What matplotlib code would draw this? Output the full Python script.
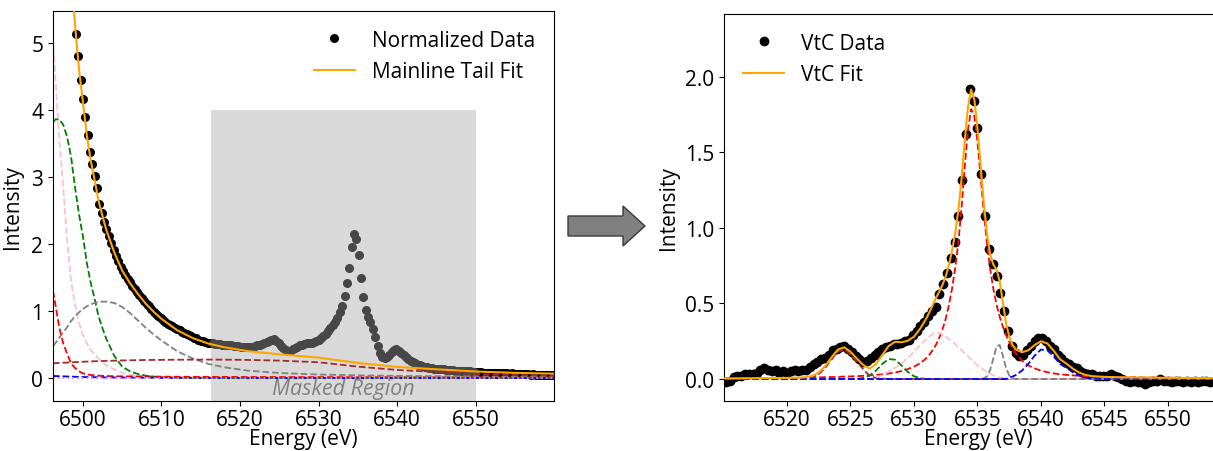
import numpy as np
import matplotlib.pyplot as plt
from matplotlib.patches import FancyArrow

plt.rcParams['font.family'] = ['Open Sans', 'DejaVu Sans']
plt.rcParams['font.size'] = 15

# ---------------- left panel: normalized data + mainline tail fit ----------------
norm_start, norm_step = 6499.1, 0.3
norm_y = np.array([
    5.14, 4.80, 4.45, 4.16, 3.90, 3.62, 3.38, 3.20, 3.02, 2.84,
    2.60, 2.46, 2.33, 2.22, 2.12, 2.01, 1.91, 1.82, 1.74, 1.66,
    1.59, 1.54, 1.48, 1.43, 1.38, 1.33, 1.29, 1.24, 1.19, 1.15,
    1.10, 1.07, 1.03, 0.99, 0.96, 0.93, 0.89, 0.87, 0.84, 0.81,
    0.79, 0.77, 0.75, 0.73, 0.71, 0.69, 0.67, 0.66, 0.64, 0.62,
    0.60, 0.59, 0.57, 0.56, 0.55, 0.54, 0.53, 0.52, 0.52, 0.51,
    0.51, 0.51, 0.50, 0.50, 0.50, 0.49, 0.49, 0.48, 0.48, 0.48,
    0.47, 0.47, 0.46, 0.46, 0.47, 0.47, 0.48, 0.49, 0.50, 0.51,
    0.52, 0.54, 0.55, 0.57, 0.58, 0.56, 0.52, 0.48, 0.45, 0.42,
    0.40, 0.41, 0.43, 0.45, 0.47, 0.49, 0.50, 0.51, 0.52, 0.53,
    0.53, 0.54, 0.56, 0.57, 0.59, 0.63, 0.66, 0.70, 0.74, 0.79,
    0.84, 0.90, 0.98, 1.07, 1.23, 1.42, 1.64, 1.95, 2.15, 2.07,
    1.84, 1.50, 1.21, 1.01, 0.91, 0.84, 0.73, 0.61, 0.48, 0.37,
    0.31, 0.30, 0.32, 0.35, 0.39, 0.42, 0.43, 0.41, 0.38, 0.34,
    0.31, 0.28, 0.26, 0.24, 0.22, 0.20, 0.19, 0.18, 0.17, 0.16,
    0.15, 0.15, 0.14, 0.14, 0.13, 0.13, 0.13, 0.12, 0.12, 0.12,
    0.12, 0.11, 0.11, 0.11, 0.10, 0.10, 0.10, 0.10, 0.09, 0.09,
    0.09, 0.09, 0.09, 0.08, 0.08, 0.08, 0.08, 0.08, 0.07, 0.07,
    0.07, 0.07, 0.07, 0.07, 0.06, 0.07, 0.06, 0.06, 0.06, 0.06,
    0.06, 0.06, 0.06, 0.05, 0.06, 0.05, 0.05, 0.05, 0.05, 0.05,
    0.05, 0.05, 0.04])
norm_x = norm_start + norm_step * np.arange(len(norm_y))

mask_lo, mask_hi, mask_top = 6516.3, 6550.0, 4.0

# tail fit components
tail_x = [6496.2, 6496.5, 6497.0, 6497.5, 6498.0, 6498.5, 6499.0, 6499.5, 6500.0,
          6500.5, 6501.0, 6501.5, 6502.0, 6502.5, 6503.0, 6504.0, 6505.0, 6506.0,
          6507.0, 6508.0, 6509.0, 6510.0, 6512.0, 6514.0, 6516.0, 6518.0, 6521.0,
          6525.0, 6530.0, 6535.0, 6540.0, 6545.0, 6550.0, 6555.0, 6560.0]
t_pink = [5.1, 4.5, 3.55, 2.85, 2.05, 1.45, 1.1, 0.83, 0.65, 0.52, 0.42, 0.35, 0.29,
          0.24, 0.19, 0.13, 0.08, 0.05, 0.04, 0.03, 0.025, 0.02, 0.015, 0.01, 0.01,
          0.008, 0.006, 0.005, 0.004, 0.003, 0.002, 0.002, 0.002, 0.001, 0.001]
t_green = [3.82, 3.86, 3.86, 3.78, 3.6, 3.3, 2.85, 2.45, 2.12, 1.72, 1.42, 1.18, 0.92,
           0.74, 0.58, 0.33, 0.17, 0.10, 0.06, 0.035, 0.02, 0.01, 0.004, 0.001, 0, 0,
           0, 0, 0, 0, 0, 0, 0, 0, 0]
t_red = [1.3, 1.1, 0.75, 0.52, 0.36, 0.22, 0.15, 0.10, 0.07, 0.055, 0.045, 0.04, 0.035,
         0.032, 0.03, 0.027, 0.025, 0.024, 0.023, 0.022, 0.021, 0.02, 0.019, 0.018,
         0.017, 0.016, 0.015, 0.014, 0.013, 0.012, 0.012, 0.011, 0.011, 0.010, 0.010]
t_gray = [0.48, 0.52, 0.60, 0.68, 0.76, 0.85, 0.92, 0.98, 1.03, 1.07, 1.10, 1.12, 1.135,
          1.14, 1.14, 1.12, 1.06, 0.97, 0.86, 0.75, 0.65, 0.56, 0.40, 0.29, 0.21, 0.16,
          0.11, 0.075, 0.052, 0.04, 0.032, 0.027, 0.024, 0.021, 0.019]
t_brown = [0.22, 0.222, 0.225, 0.228, 0.231, 0.234, 0.237, 0.24, 0.243, 0.245, 0.248,
           0.25, 0.252, 0.254, 0.256, 0.259, 0.262, 0.265, 0.267, 0.269, 0.27, 0.271,
           0.273, 0.274, 0.275, 0.274, 0.27, 0.26, 0.235, 0.17, 0.12, 0.09, 0.06,
           0.045, 0.035]
t_blue = [0.03, 0.029, 0.027, 0.025, 0.023, 0.021, 0.019, 0.017, 0.015, 0.014, 0.013,
          0.012, 0.011, 0.010, 0.009, 0.008, 0.007, 0.006, 0.005, 0.004, 0.004, 0.003,
          0.002, 0.002, 0.001, 0.001, 0, 0, 0, 0, 0, 0, 0, 0, 0]
t_violet = [0.0] * 35

# ---------------- right panel: VtC data + fit ----------------
vtc_start, vtc_step = 6515.2, 0.3
vtc_y = np.array([
    -0.02, -0.01, 0.01, 0.02, 0.02, 0.03, 0.03, 0.03, 0.04, 0.06,
    0.07, 0.06, 0.05, 0.06, 0.04, 0.05, 0.04, 0.05, 0.06, 0.05,
    0.06, 0.06, 0.08, 0.10, 0.11, 0.13, 0.14, 0.16, 0.19, 0.20,
    0.21, 0.22, 0.20, 0.18, 0.15, 0.13, 0.11, 0.12, 0.14, 0.16,
    0.18, 0.20, 0.21, 0.22, 0.23, 0.23, 0.24, 0.25, 0.26, 0.29,
    0.32, 0.35, 0.38, 0.42, 0.45, 0.48, 0.56, 0.63, 0.70, 0.80,
    0.91, 1.08, 1.32, 1.62, 1.92, 1.84, 1.66, 1.36, 1.08, 0.86,
    0.76, 0.68, 0.57, 0.45, 0.32, 0.22, 0.17, 0.15, 0.16, 0.19,
    0.22, 0.25, 0.27, 0.27, 0.25, 0.22, 0.20, 0.16, 0.14, 0.11,
    0.10, 0.08, 0.07, 0.05, 0.04, 0.03, 0.03, 0.02, 0.02, 0.02,
    0.02, 0.03, 0.02, 0.01, 0.00, -0.01, -0.02, -0.01, -0.02, -0.02,
    -0.03, -0.02, -0.01, -0.01, 0.00, -0.01, -0.01, -0.02, -0.01, -0.01,
    -0.02, -0.01, -0.02, -0.01, -0.02, -0.01, -0.01, -0.02, -0.01, -0.01,
    -0.02])
vtc_x = vtc_start + vtc_step * np.arange(len(vtc_y))

fit_x = np.concatenate([np.arange(6515, 6531, 0.5),
                        np.arange(6531, 6538, 0.25),
                        np.arange(6538, 6555.5, 0.5)])
v_red = np.array([
    .004, .004, .004, .005, .005, .005, .006, .006, .006, .007, .007, .008, .008,
    .009, .010, .011, .012, .013, .014, .016, .017, .019, .021, .024, .027, .031,
    .036, .043, .052, .065, .082, .105,
    .14, .165, .195, .23, .275, .33, .40, .49, .60, .74, .91, 1.14, 1.41, 1.65,
    1.787, 1.741, 1.569, 1.336, 1.10, .895, .728, .595, .492, .411, .346, .292,
    .245, .205,
    .172, .122, .09, .07, .055, .045, .037, .031, .027, .024, .021, .019, .017,
    .016, .014, .013, .012, .011, .011, .010, .010, .009, .009, .008, .008, .008,
    .007, .007, .007, .006, .006, .006, .006, .005, .005])
v_green = np.array([0.0] * 21 + [.0015, .007, .023, .055, .10, .132, .128, .091,
                                 .048, .018, .005] + [0.0] * 63)
v_brown = np.array([0.0] * 13 + [.003, .011, .032, .073, .13, .18, .194, .163, .115,
                                 .065, .021, .007, .002] + [0.0] * 69)
v_pink = np.array([0.0] * 24 + [.01, .025, .05, .075, .10, .14, .18, .225]
                  + [.265, .285, .30, .31, .305, .295, .28, .265, .25, .23, .21, .19,
                     .17, .15, .13, .11, .09, .075, .06, .047, .035, .025, .017, .011,
                     .007, .004, .002, .001] + [0.0] * 35)
v_gray = np.array([0.0] * 50 + [.004, .018, .06, .137, .215, .225, .153, .073, .024,
                                .005] + [0.0] * 35)
v_blue = np.array([0.0] * 58 + [.01, .016] + [.025, .055, .10, .155, .195, .19, .15,
                                              .10, .075, .045, .022, .008, .002]
                  + [0.0] * 22)
v_offset = 0.0

# ---------------- figure ----------------
W, H = 1213, 452
fig = plt.figure(figsize=(W / 100, H / 100), dpi=100)
axL = fig.add_axes([53 / W, 50 / H, 501 / W, 390 / H])
axR = fig.add_axes([724 / W, 50 / H, 508 / W, 387 / H])

# left
ylo, yhi = -0.343, 5.478
axL.set_xlim(6496.2, 6559.95)
axL.set_ylim(ylo, yhi)
axL.axvspan(mask_lo, mask_hi, ymin=0, ymax=(mask_top - ylo) / (yhi - ylo),
            color='#d9d9d9', lw=0, zorder=0)
inside = (norm_x >= mask_lo) & (norm_x <= mask_hi)
axL.plot(norm_x[~inside], norm_y[~inside], 'o', color='black', ms=5.5,
         label='Normalized Data', zorder=2)
axL.plot(norm_x[inside], norm_y[inside], 'o', color='#474747', ms=5.5, zorder=2)
for vals, c in [(t_pink, 'pink'), (t_green, 'green'), (t_red, 'red'),
                (t_gray, 'gray'), (t_brown, 'brown'), (t_blue, 'blue')]:
    axL.plot(tail_x, vals, '--', color=c, lw=1.3, zorder=2.5)
axL.plot(tail_x, t_violet, ':', color='violet', lw=1.3, zorder=2.5)
tail_fit = (np.array(t_pink) + np.array(t_green) + np.array(t_red) + np.array(t_gray)
            + np.array(t_brown) + np.array(t_blue) + np.array(t_violet))
axL.plot(tail_x, tail_fit, color='orange', lw=1.5, label='Mainline Tail Fit', zorder=3)
axL.text((mask_lo + mask_hi) / 2, -0.16, 'Masked Region', style='italic', color='gray',
         fontsize=15.5, ha='center', va='center')
axL.set_xticks([6500, 6510, 6520, 6530, 6540, 6550])
axL.set_yticks([0, 1, 2, 3, 4, 5])
axL.tick_params(axis='x', pad=2)
axL.set_xlabel('Energy (eV)', labelpad=-1)
axL.set_ylabel('Intensity', labelpad=6)
axL.legend(loc='upper right', frameon=False)

# right
axR.set_xlim(6515.04, 6555.04)
axR.set_ylim(-0.1457, 2.417)
axR.plot(vtc_x, vtc_y, 'o', color='black', ms=6, label='VtC Data', zorder=2)
axR.axhline(v_offset, ls='--', color='gray', lw=1.3, zorder=2.4)
for vals, c in [(v_red, 'red'), (v_green, 'green'), (v_brown, 'brown'),
                (v_pink, 'pink'), (v_gray, 'gray'), (v_blue, 'blue')]:
    axR.plot(fit_x, vals, '--', color=c, lw=1.3, zorder=2.5)
vtc_fit = v_red + v_green + v_brown + v_pink + v_gray + v_blue + v_offset
axR.plot(fit_x, vtc_fit, color='orange', lw=1.5, label='VtC Fit', zorder=3)
axR.set_xticks([6520, 6525, 6530, 6535, 6540, 6545, 6550])
axR.set_yticks([0.0, 0.5, 1.0, 1.5, 2.0])
axR.tick_params(axis='x', pad=2)
axR.set_xlabel('Energy (eV)', labelpad=-1)
axR.set_ylabel('Intensity')
axR.legend(loc='upper left', frameon=False)

# arrow between panels
fig.add_artist(FancyArrow(568 / W, (H - 227) / H, 77 / W, 0, width=20 / H,
                          head_width=40 / H, head_length=22 / W,
                          length_includes_head=True, transform=fig.transFigure,
                          facecolor='#808080', edgecolor='#3a3a3a', lw=1))

fig.savefig('out.png', dpi=100)
